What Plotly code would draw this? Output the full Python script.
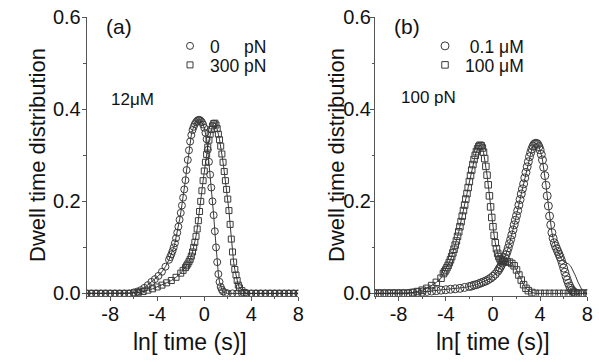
import plotly.graph_objects as go

# ---------------- data ----------------
# Panel (a): 12 uM, 0 pN (circles) and 300 pN (squares); x = ln[time (s)]
A0_x = [-10.0, -9.6, -9.2, -8.8, -8.4, -8.0, -7.6, -7.2, -6.8, -6.4,
        -6.0, -5.7, -5.4, -5.1, -4.8, -4.5, -4.2, -3.9, -3.6, -3.3,
        -3.0, -2.9, -2.8, -2.7, -2.6, -2.5, -2.4, -2.3, -2.2, -2.1,
        -2.0, -1.9, -1.8, -1.7, -1.6, -1.5, -1.4, -1.3, -1.2, -1.1,
        -1.0, -0.9, -0.8, -0.7, -0.6, -0.5, -0.4, -0.3, -0.2, -0.1,
        0.0, 0.1, 0.2, 0.3, 0.4, 0.5, 0.6, 0.7, 0.8, 0.9,
        1.0, 1.1, 1.2, 1.3, 1.4, 1.5, 1.6, 1.8, 2.0, 2.4,
        2.8, 3.2, 3.6, 4.0, 4.4, 4.8, 5.2, 5.6, 6.0, 6.4,
        6.8, 7.2, 7.6, 8.0]
A0_y = [0, 0, 0, 0, 0, 0, 0, 0, 0, 0,
        0.002, 0.004, 0.007, 0.012, 0.018, 0.025, 0.031, 0.038, 0.047, 0.058,
        0.073, 0.079, 0.085, 0.092, 0.100, 0.109, 0.120, 0.132, 0.145, 0.160,
        0.175, 0.191, 0.208, 0.226, 0.246, 0.268, 0.290, 0.311, 0.330, 0.344,
        0.355, 0.362, 0.368, 0.372, 0.375, 0.377, 0.377, 0.375, 0.372, 0.367,
        0.360, 0.349, 0.335, 0.312, 0.286, 0.258, 0.230, 0.200, 0.170, 0.135,
        0.100, 0.068, 0.042, 0.025, 0.014, 0.008, 0.004, 0.001, 0, 0,
        0, 0, 0, 0, 0, 0, 0, 0, 0, 0,
        0, 0, 0, 0]

A300_x = [-10.0, -9.6, -9.2, -8.8, -8.4, -8.0, -7.6, -7.2, -6.8, -6.4,
          -6.0, -5.6, -5.2, -4.8, -4.4, -4.0, -3.6, -3.2, -2.8, -2.4,
          -2.0, -1.8, -1.6, -1.5, -1.4, -1.3, -1.2, -1.1, -1.0, -0.9,
          -0.8, -0.7, -0.6, -0.5, -0.4, -0.3, -0.2, -0.1, 0.0, 0.1,
          0.2, 0.3, 0.4, 0.5, 0.6, 0.7, 0.8, 0.9, 1.0, 1.1,
          1.2, 1.3, 1.4, 1.5, 1.6, 1.7, 1.8, 1.9, 2.0, 2.1,
          2.2, 2.3, 2.4, 2.5, 2.6, 2.7, 2.8, 2.9, 3.0, 3.2,
          3.4, 3.6, 4.0, 4.4, 4.8, 5.2, 5.6, 6.0, 6.4, 6.8,
          7.2, 7.6, 8.0]
A300_y = [0, 0, 0, 0, 0, 0, 0, 0, 0, 0,
          0.001, 0.002, 0.004, 0.007, 0.010, 0.014, 0.018, 0.023, 0.028, 0.035,
          0.044, 0.050, 0.056, 0.060, 0.064, 0.069, 0.074, 0.081, 0.090, 0.100,
          0.111, 0.124, 0.140, 0.158, 0.178, 0.200, 0.223, 0.245, 0.266, 0.285,
          0.302, 0.318, 0.333, 0.346, 0.356, 0.364, 0.369, 0.370, 0.366, 0.358,
          0.346, 0.334, 0.320, 0.303, 0.285, 0.265, 0.245, 0.226, 0.205, 0.180,
          0.150, 0.118, 0.090, 0.068, 0.052, 0.040, 0.028, 0.018, 0.012, 0.006,
          0.002, 0, 0, 0, 0, 0, 0, 0, 0, 0,
          0, 0, 0]

# Panel (b): 100 pN, 0.1 uM (circles) and 100 uM (squares)
B01_x = [-10.0, -9.6, -9.2, -8.8, -8.4, -8.0, -7.6, -7.2, -6.8, -6.4,
         -6.0, -5.6, -5.2, -4.8, -4.4, -4.0, -3.6, -3.2, -2.8, -2.4,
         -2.0, -1.8, -1.6, -1.4, -1.2, -1.0, -0.8, -0.6, -0.4, -0.2,
         0.0, 0.2, 0.4, 0.5, 0.6, 0.7, 0.8, 0.9, 1.0, 1.1,
         1.2, 1.3, 1.4, 1.5, 1.6, 1.7, 1.8, 1.9, 2.0, 2.1,
         2.2, 2.3, 2.4, 2.5, 2.6, 2.7, 2.8, 2.9, 3.0, 3.1,
         3.2, 3.3, 3.4, 3.5, 3.6, 3.7, 3.8, 3.9, 4.0, 4.1,
         4.2, 4.3, 4.4, 4.5, 4.6, 4.7, 4.8, 4.9, 5.0, 5.1,
         5.2, 5.3, 5.4, 5.5, 5.6, 5.7, 5.8, 5.9, 6.0, 6.1,
         6.2, 6.3, 6.4, 6.5, 6.6, 6.7, 6.8, 6.9, 7.0, 7.2,
         7.6, 8.0]
B01_y = [0, 0, 0, 0, 0, 0, 0, 0, 0.001, 0.002,
         0.003, 0.004, 0.005, 0.006, 0.007, 0.008, 0.009, 0.010, 0.011, 0.013,
         0.015, 0.016, 0.018, 0.019, 0.021, 0.023, 0.025, 0.027, 0.030, 0.033,
         0.037, 0.042, 0.048, 0.052, 0.056, 0.061, 0.066, 0.072, 0.078, 0.084,
         0.091, 0.099, 0.108, 0.117, 0.127, 0.138, 0.149, 0.159, 0.169, 0.180,
         0.192, 0.204, 0.216, 0.227, 0.238, 0.251, 0.263, 0.275, 0.286, 0.297,
         0.306, 0.314, 0.320, 0.324, 0.326, 0.326, 0.324, 0.319, 0.312, 0.302,
         0.290, 0.274, 0.256, 0.235, 0.212, 0.190, 0.168, 0.149, 0.132, 0.120,
         0.110, 0.103, 0.097, 0.091, 0.085, 0.079, 0.072, 0.064, 0.055, 0.046,
         0.037, 0.029, 0.022, 0.016, 0.011, 0.007, 0.004, 0.002, 0.001, 0,
         0, 0]
# fitted curve for 0.1 uM departs from the symbols on the long-time tail
B01_fit_x = [5.6, 5.8, 6.0, 6.2, 6.4, 6.6, 6.8, 7.0, 7.2, 7.4, 7.6, 7.8, 8.0]
B01_fit_y = [0.085, 0.075, 0.069, 0.066, 0.064, 0.059, 0.050, 0.038, 0.025,
             0.013, 0.005, 0.001, 0.0]

B100_x = [-10.0, -9.6, -9.2, -8.8, -8.4, -8.0, -7.6, -7.2, -6.8, -6.4,
          -6.0, -5.6, -5.2, -4.8, -4.4, -4.2, -4.1, -4.0, -3.9, -3.8,
          -3.7, -3.6, -3.5, -3.4, -3.3, -3.2, -3.1, -3.0, -2.9, -2.8,
          -2.7, -2.6, -2.5, -2.4, -2.3, -2.2, -2.1, -2.0, -1.9, -1.8,
          -1.7, -1.6, -1.5, -1.4, -1.3, -1.2, -1.1, -1.0, -0.9, -0.8,
          -0.7, -0.6, -0.5, -0.4, -0.3, -0.2, -0.1, 0.0, 0.1, 0.2,
          0.3, 0.4, 0.5, 0.6, 0.7, 0.8, 0.9, 1.0, 1.2, 1.4,
          1.6, 1.8, 2.0, 2.2, 2.4, 2.6, 2.8, 3.0, 3.3, 3.6,
          4.0, 4.4, 4.8, 5.2, 5.6, 6.0, 6.4, 6.8, 7.2, 7.6,
          8.0]
B100_y = [0, 0, 0, 0, 0, 0, 0, 0, 0.002, 0.004,
          0.007, 0.011, 0.017, 0.024, 0.033, 0.043, 0.047, 0.051, 0.056, 0.061,
          0.067, 0.073, 0.080, 0.088, 0.096, 0.105, 0.114, 0.124, 0.134, 0.145,
          0.156, 0.168, 0.180, 0.192, 0.205, 0.217, 0.230, 0.243, 0.256, 0.268,
          0.280, 0.291, 0.300, 0.308, 0.314, 0.319, 0.322, 0.321, 0.316, 0.307,
          0.293, 0.276, 0.257, 0.236, 0.212, 0.188, 0.165, 0.145, 0.126, 0.110,
          0.097, 0.087, 0.080, 0.075, 0.072, 0.070, 0.069, 0.069, 0.069, 0.068,
          0.065, 0.060, 0.051, 0.040, 0.029, 0.019, 0.011, 0.006, 0.002, 0,
          0, 0, 0, 0, 0, 0, 0, 0, 0, 0,
          0]

for xs, ys in [(A0_x, A0_y), (A300_x, A300_y), (B01_x, B01_y),
               (B100_x, B100_y), (B01_fit_x, B01_fit_y)]:
    assert len(xs) == len(ys), (len(xs), len(ys))

X_TICKS = [-8, -4, 0, 4, 8]
X_TICK_TEXT = ["-8", "-4", "0", "4", "8"]
Y_TICKS = [0.0, 0.2, 0.4, 0.6]

# ---------------- styling ----------------
FONT = "Liberation Sans, Arial, Helvetica, sans-serif"
INK = "#111111"
AX = "#555555"
MK = "#3a3a3a"
W, H = 599, 362

fig = go.Figure()


def add_series(xs, ys, name, symbol, size, xa, ya, legend, line_x=None, line_y=None):
    lx = xs if line_x is None else line_x
    ly = ys if line_y is None else line_y
    fig.add_trace(go.Scatter(x=lx, y=ly, mode="lines", xaxis=xa, yaxis=ya,
                             line=dict(color="#222222", width=0.9),
                             showlegend=False, hoverinfo="skip"))
    fig.add_trace(go.Scatter(x=xs, y=ys, mode="markers", xaxis=xa, yaxis=ya,
                             name=name, legend=legend,
                             marker=dict(symbol=symbol, size=size, color=MK,
                                         line=dict(color=MK, width=1.0))))


add_series(A0_x, A0_y, "0\u00a0\u00a0\u00a0\u00a0\u00a0pN", "circle-open", 7,
           "x", "y", "legend")
add_series(A300_x, A300_y, "300 pN", "square-open", 6, "x", "y", "legend3")

b01_line_x = [x for x in B01_x if x < B01_fit_x[0]] + B01_fit_x
b01_line_y = [y for x, y in zip(B01_x, B01_y) if x < B01_fit_x[0]] + B01_fit_y
add_series(B01_x, B01_y, "\u00a00.1 \u03bcM", "circle-open", 8, "x2", "y2", "legend2",
           b01_line_x, b01_line_y)
add_series(B100_x, B100_y, "100 \u03bcM", "square-open", 6.5, "x2", "y2", "legend4")

# domains in paper fractions (margins are zero)
xa_dom = [86.7 / W, 298.3 / W]
xb_dom = [375.0 / W, 587.3 / W]
y_dom = [1 - 295.7 / H, 1 - 17.3 / H]

common_x = dict(range=[-10, 8], tickmode="array", tickvals=X_TICKS,
                ticktext=X_TICK_TEXT,
                ticks="outside", ticklen=4, tickwidth=1, tickcolor=AX,
                showline=True, linecolor=AX, linewidth=1,
                showgrid=False, zeroline=False, ticklabelstandoff=-4,
                tickfont=dict(family=FONT, size=20, color=INK),
                minor=dict(tickvals=[-10, -6, -2, 2, 6], ticks="outside",
                           ticklen=2.5, tickwidth=1, tickcolor=AX),
                automargin=False, fixedrange=True)
common_y = dict(range=[-0.005, 0.6], tickmode="array", tickvals=Y_TICKS,
                tickformat=".1f",
                ticks="outside", ticklen=4, tickwidth=1, tickcolor=AX,
                showline=True, linecolor=AX, linewidth=1,
                showgrid=False, zeroline=False,
                tickfont=dict(family=FONT, size=20, color=INK),
                minor=dict(tickvals=[0.1, 0.3, 0.5], ticks="outside",
                           ticklen=2.5, tickwidth=1, tickcolor=AX),
                automargin=False, fixedrange=True)


def leg(x_left, y_center):
    return dict(x=x_left / W, y=1 - y_center / H, xanchor="left", yanchor="middle",
                bgcolor="rgba(0,0,0,0)", borderwidth=0,
                font=dict(family=FONT, size=17.5, color=INK))


fig.update_layout(
    width=W, height=H,
    margin=dict(l=0, r=0, t=0, b=0),
    paper_bgcolor="white", plot_bgcolor="white",
    font=dict(family=FONT, color=INK),
    xaxis=dict(domain=xa_dom, anchor="y", **common_x),
    yaxis=dict(domain=y_dom, anchor="x", ticklabelstandoff=-3, **common_y),
    xaxis2=dict(domain=xb_dom, anchor="y2", **common_x),
    yaxis2=dict(domain=y_dom, anchor="x2", ticklabelstandoff=-5, **common_y),
    legend=leg(170, 46),
    legend3=leg(170, 65),
    legend2=leg(425, 46),
    legend4=leg(425, 65),
)

ann = []


def txt(s, x, y, size, xanchor="left", yanchor="middle", angle=0):
    ann.append(dict(text=s, x=x / W, y=1 - y / H, xref="paper", yref="paper",
                    xanchor=xanchor, yanchor=yanchor, showarrow=False,
                    textangle=angle, font=dict(family=FONT, size=size, color=INK)))


txt("(a)", 104, 27, 21)
txt("12\u03bcM", 109, 99, 17)
txt("(b)", 392, 27, 21)
txt("100 pN", 399, 98, 17)
txt("Dwell time distribution", 37, 155, 22, xanchor="center", angle=-90)
txt("Dwell time distribution", 336, 155, 22, xanchor="center", angle=-90)
txt("ln[ time (s)]", 190, 342, 23, xanchor="center")
txt("ln[ time (s)]", 493, 342, 23, xanchor="center")
fig.update_layout(annotations=ann)

fig.write_html("out.html", config={"displayModeBar": False},
               post_script="document.body.style.margin='0';document.body.style.padding='0';")
